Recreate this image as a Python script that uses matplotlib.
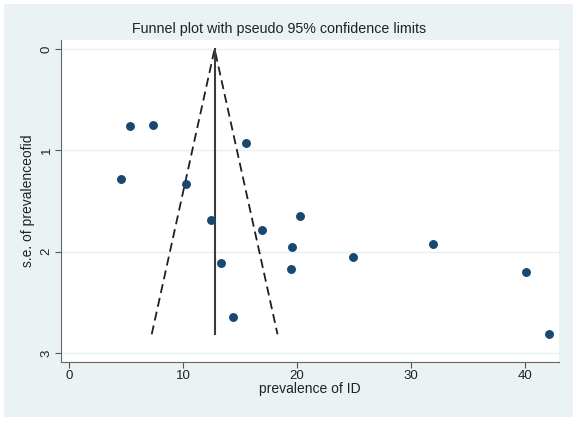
import matplotlib.pyplot as plt
import matplotlib.patches as patches
import numpy as np

plt.rcParams['font.family'] = ['Liberation Sans', 'DejaVu Sans']

# study estimates
prevalence = [5.35, 7.39, 15.53, 4.54, 10.26, 12.46, 20.26, 16.96,
              19.54, 31.9, 13.31, 19.45, 24.91, 40.11, 14.39, 42.1]
se = [0.763, 0.753, 0.931, 1.283, 1.329, 1.685, 1.645, 1.786,
      1.956, 1.921, 2.115, 2.171, 2.05, 2.2, 2.645, 2.816]
pooled = 12.78
se_max = 2.816

xticks = [0, 10, 20, 30, 40]
yticks = [0, 1, 2, 3]

W, H = 577, 422
fig = plt.figure(figsize=(W / 100, H / 100), dpi=100)
fig.patch.set_facecolor('white')
fig.patches.append(patches.Rectangle((4 / W, 5 / H), 569 / W, 413 / H,
                                     transform=fig.transFigure, facecolor='#EAF2F3',
                                     edgecolor='none', zorder=-5))

ax = fig.add_axes([61 / W, 1 - 362 / H, (559 - 61) / W, (362 - 40) / H])
ax.set_zorder(1)
ax.set_facecolor('white')

for t in yticks:
    ax.axhline(t, color='#E6F0F2', lw=1.0, zorder=1)

# pseudo 95% limits
ax.plot([pooled - 1.96 * se_max, pooled, pooled + 1.96 * se_max], [se_max, 0, se_max],
        color='#1f1f1f', lw=1.3, ls=(0, (5, 2.8)), zorder=2)
ax.plot([pooled, pooled], [0, se_max], color='#3c3c3c', lw=1.5, zorder=2)

ax.plot(prevalence, se, 'o', color='#1a476f', ms=5.4, zorder=3)

ax.set_xlim(-0.7, 43.0)
ax.set_ylim(3.09, -0.09)
ax.set_xticks(xticks)
ax.set_yticks(yticks)
ax.set_yticklabels([str(t) for t in yticks], rotation=90, va='center')
ax.tick_params(axis='both', labelsize=9.5, colors='#555555', labelcolor='#222222',
               length=4, width=0.8, direction='out')
ax.tick_params(axis='y', pad=2)
ax.tick_params(axis='x', pad=2)

for s in ['top', 'right']:
    ax.spines[s].set_visible(False)
for s in ['left', 'bottom']:
    ax.spines[s].set_color('#666666')
    ax.spines[s].set_linewidth(0.8)

ax.set_xlabel('prevalence of ID', fontsize=10, color='#222222', labelpad=0)
ax.set_ylabel('s.e. of prevalenceofid', fontsize=10, color='#222222', labelpad=4)

fig.text(279 / W, 1 - 29 / H, 'Funnel plot with pseudo 95% confidence limits',
         ha='center', va='center', fontsize=10.3, color='#222222')

fig.savefig('out.png', dpi=100, facecolor=fig.get_facecolor())
